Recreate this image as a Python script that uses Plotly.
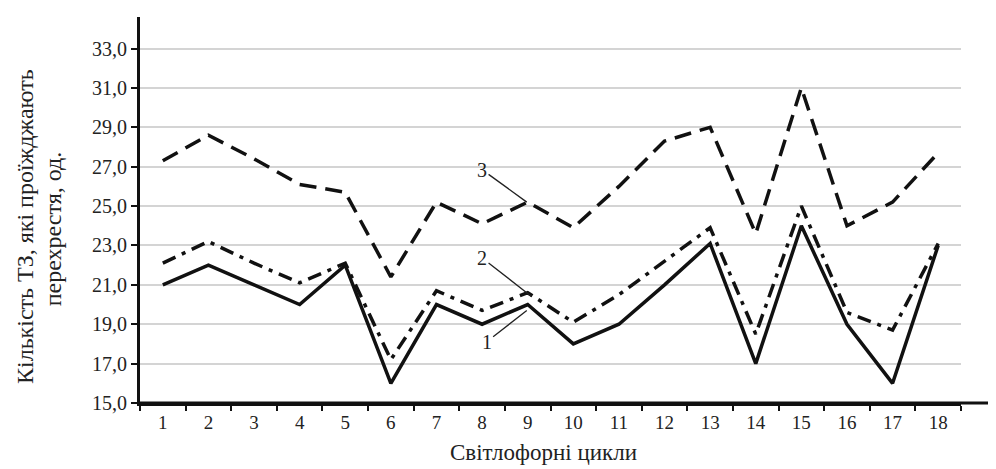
import plotly.graph_objects as go

cycles = [str(i) for i in range(1, 19)]
series1 = [21.0, 22.0, 21.0, 20.0, 22.0, 16.0, 20.0, 19.0, 20.0, 18.0, 19.0, 21.0, 23.1, 17.0, 24.0, 19.0, 16.0, 23.0]
series2 = [22.1, 23.2, 22.1, 21.1, 22.1, 17.2, 20.7, 19.7, 20.6, 19.1, 20.5, 22.2, 23.9, 18.5, 25.0, 19.6, 18.7, 23.1]
series3 = [27.3, 28.6, 27.4, 26.1, 25.7, 21.4, 25.2, 24.1, 25.2, 23.9, 26.0, 28.3, 29.0, 23.6, 31.0, 24.0, 25.2, 27.7]
y_ticks = [15, 17, 19, 21, 23, 25, 27, 29, 31, 33]
y_ticktext = ["15,0", "17,0", "19,0", "21,0", "23,0", "25,0", "27,0", "29,0", "31,0", "33,0"]

FONT = "Liberation Serif"

fig = go.Figure()
fig.add_trace(go.Scatter(x=cycles, y=series3, mode="lines",
                         line=dict(color="#111111", width=3.5, dash="17px,9px")))
fig.add_trace(go.Scatter(x=cycles, y=series2, mode="lines",
                         line=dict(color="#111111", width=3.5, dash="14px,7px,4px,7px")))
fig.add_trace(go.Scatter(x=cycles, y=series1, mode="lines",
                         line=dict(color="#111111", width=3.5)))

# series labels with leader lines
labels = [("3", 7.0, 26.85, 7.98, 25.2),
          ("2", 7.0, 22.37, 8.09, 20.4),
          ("1", 7.1, 18.1, 7.98, 19.7)]
for txt, lx, ly, px, py in labels:
    fig.add_annotation(x=px, y=py, ax=lx, ay=ly, xref="x", yref="y", axref="x", ayref="y",
                       text=txt, showarrow=True, arrowhead=0, arrowwidth=1.3, arrowcolor="#222222",
                       font=dict(family=FONT, size=20, color="#222222"))

# axis titles (y title as two rotated lines)
fig.add_annotation(x=-0.1401, y=0.4585, xref="paper", yref="paper",
                   text="Кількість ТЗ, які проїжджають", textangle=-90,
                   showarrow=False, xanchor="center", yanchor="middle",
                   font=dict(family=FONT, size=24, color="#222222"))
fig.add_annotation(x=-0.106, y=0.45, xref="paper", yref="paper",
                   text="перехрестя, од.", textangle=-90,
                   showarrow=False, xanchor="center", yanchor="middle",
                   font=dict(family=FONT, size=24, color="#222222"))
fig.add_annotation(x=0.491, y=-0.127, xref="paper", yref="paper",
                   text="Світлофорні цикли", showarrow=False, xanchor="center", yanchor="middle",
                   font=dict(family=FONT, size=23, color="#222222"))

# x-axis line extends past the plot area to the right
fig.add_shape(type="line", xref="paper", yref="paper", x0=0, x1=1.06, y0=0, y1=0,
              line=dict(color="#111111", width=3))

fig.update_layout(
    width=988, height=461,
    margin=dict(l=132, r=35, t=9, b=66),
    paper_bgcolor="white", plot_bgcolor="white",
    showlegend=False,
    font=dict(family=FONT, size=20, color="#222222"),
    xaxis=dict(type="category", range=[-0.5, 17.5], showgrid=False, zeroline=False,
               showline=True, linecolor="#111111", linewidth=3,
               ticks="outside", tickson="boundaries", ticklen=5, tickwidth=2, tickcolor="#111111",
               tickfont=dict(family=FONT, size=19, color="#222222")),
    yaxis=dict(range=[15, 34.6], tickvals=y_ticks, ticktext=y_ticktext,
               showgrid=True, gridcolor="#d4d4d4", gridwidth=1.5, zeroline=False,
               showline=True, linecolor="#111111", linewidth=3,
               ticks="outside", ticklen=6, tickwidth=2, tickcolor="#111111",
               tickfont=dict(family=FONT, size=20, color="#222222")),
)

fig.write_html("out.html")
